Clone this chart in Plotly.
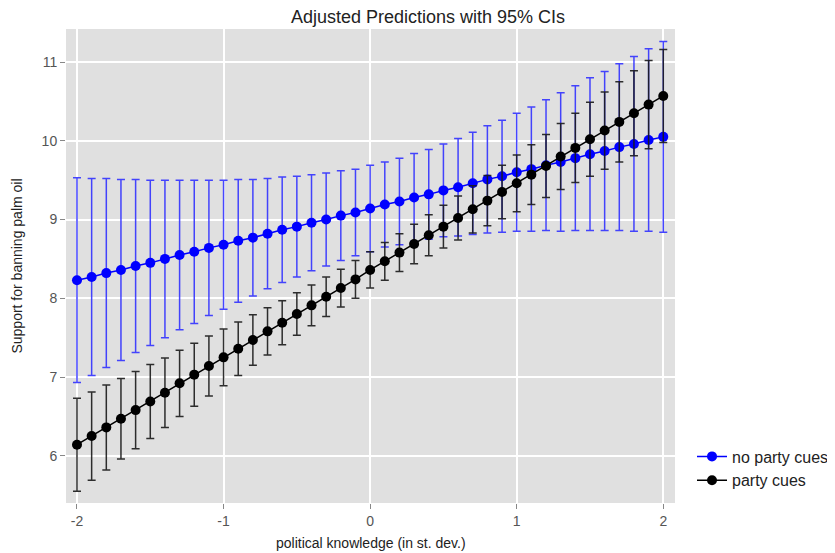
import plotly.graph_objects as go

x_vals = [-2.0, -1.9, -1.8, -1.7, -1.6, -1.5, -1.4, -1.3, -1.2, -1.1, -1.0,
          -0.9, -0.8, -0.7, -0.6, -0.5, -0.4, -0.3, -0.2, -0.1, 0.0,
          0.1, 0.2, 0.3, 0.4, 0.5, 0.6, 0.7, 0.8, 0.9, 1.0,
          1.1, 1.2, 1.3, 1.4, 1.5, 1.6, 1.7, 1.8, 1.9, 2.0]

no_cues_pred = [8.23, 8.27, 8.32, 8.36, 8.41, 8.45, 8.50, 8.55, 8.59, 8.64, 8.68,
                8.73, 8.77, 8.82, 8.87, 8.91, 8.96, 9.00, 9.05, 9.09, 9.14,
                9.19, 9.23, 9.28, 9.32, 9.37, 9.41, 9.46, 9.51, 9.55, 9.60,
                9.64, 9.69, 9.73, 9.78, 9.83, 9.87, 9.92, 9.96, 10.01, 10.05]
no_cues_ci = [1.30, 1.25, 1.20, 1.15, 1.10, 1.05, 1.00, 0.95, 0.91, 0.86, 0.82,
              0.78, 0.74, 0.70, 0.67, 0.64, 0.61, 0.59, 0.57, 0.55, 0.55,
              0.54, 0.55, 0.56, 0.57, 0.59, 0.62, 0.65, 0.68, 0.71, 0.75,
              0.79, 0.83, 0.88, 0.92, 0.97, 1.01, 1.06, 1.11, 1.16, 1.21]

cues_pred = [6.14, 6.25, 6.36, 6.47, 6.58, 6.69, 6.80, 6.92, 7.03, 7.14, 7.25,
             7.36, 7.47, 7.58, 7.69, 7.80, 7.91, 8.02, 8.13, 8.24, 8.36,
             8.47, 8.58, 8.69, 8.80, 8.91, 9.02, 9.13, 9.24, 9.35, 9.46,
             9.57, 9.68, 9.80, 9.91, 10.02, 10.13, 10.24, 10.35, 10.46, 10.57]
cues_ci = [0.59, 0.56, 0.54, 0.51, 0.49, 0.47, 0.44, 0.42, 0.40, 0.38, 0.36,
           0.34, 0.32, 0.30, 0.28, 0.27, 0.26, 0.25, 0.24, 0.24, 0.23,
           0.24, 0.24, 0.25, 0.26, 0.27, 0.28, 0.30, 0.32, 0.34, 0.36,
           0.38, 0.40, 0.42, 0.44, 0.47, 0.49, 0.51, 0.54, 0.56, 0.59]

x_ticks = [-2, -1, 0, 1, 2]
y_ticks = [6, 7, 8, 9, 10, 11]

W, H = 827, 545  # page body adds an 8px offset
PLOT_H = 545 - 21 - 50

fig = go.Figure()
fig.add_trace(go.Scatter(
    x=x_vals, y=no_cues_pred, mode="lines+markers", name="no party cues",
    line=dict(color="#0000ff", width=1.5),
    marker=dict(color="#0000ff", size=10),
    error_y=dict(type="data", array=no_cues_ci, color="rgba(50,50,255,0.9)",
                 thickness=1.5, width=4),
))
fig.add_trace(go.Scatter(
    x=x_vals, y=cues_pred, mode="lines+markers", name="party cues",
    line=dict(color="#000000", width=1.5),
    marker=dict(color="#000000", size=10),
    error_y=dict(type="data", array=cues_ci, color="rgba(25,25,25,0.9)",
                 thickness=1.5, width=4),
))

fig.update_layout(
    width=W, height=H,
    margin=dict(l=58, r=160, t=21, b=50),
    paper_bgcolor="white",
    plot_bgcolor="#e0e0e0",
    font=dict(family="Liberation Sans, Arial, sans-serif", size=14, color="#222"),
    title=dict(text="Adjusted Predictions with 95% CIs", x=420 / W,
               xanchor="center", y=1.0, yanchor="top", pad=dict(t=2, b=0),
               font=dict(size=18, color="#222")),
    legend=dict(xref="container", x=684 / W, xanchor="left",
                yref="paper", y=0.134, yanchor="top",
                bgcolor="rgba(0,0,0,0)", font=dict(size=16, color="#222")),
    showlegend=True,
    annotations=[dict(text="political knowledge (in st. dev.)", xref="paper", yref="paper",
                      x=0.5, y=-40 / PLOT_H, xanchor="center", yanchor="middle",
                      showarrow=False, font=dict(size=14, color="#222"))],
)
fig.update_xaxes(
    range=[-2.075, 2.08], tickvals=x_ticks, ticktext=[str(v) for v in x_ticks],
    showgrid=True, gridcolor="white", gridwidth=1.5, zeroline=False,
    ticks="outside", ticklen=5, tickcolor="#888", tickfont=dict(size=14, color="#555"),
    showline=False, automargin=False,
)
fig.update_yaxes(
    range=[5.40, 11.42], tickvals=y_ticks, ticktext=[str(v) for v in y_ticks],
    showgrid=True, gridcolor="white", gridwidth=1.5, zeroline=False,
    ticks="outside", ticklen=5, tickcolor="#888", tickfont=dict(size=14, color="#555"),
    title=dict(text="Support for banning palm oil",
               font=dict(size=14, color="#222")),
    showline=False, automargin=False,
)

fig.write_html("out.html")
